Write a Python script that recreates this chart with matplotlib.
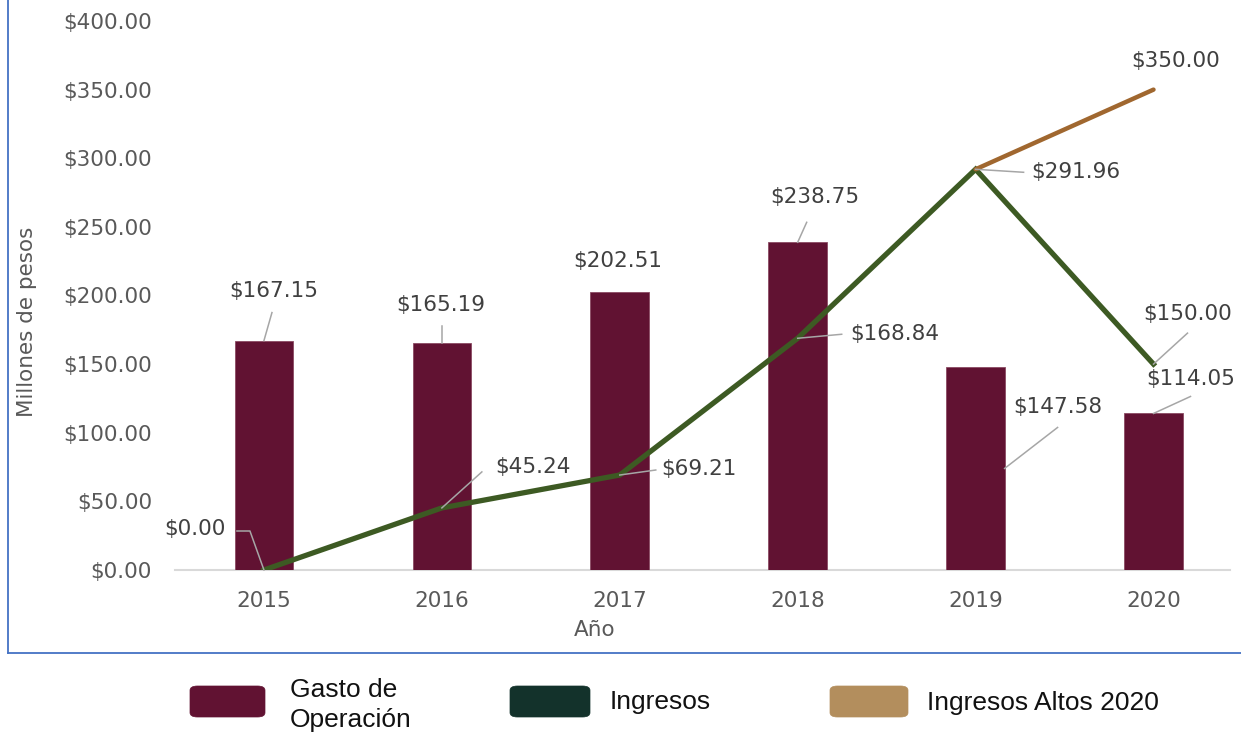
import matplotlib
matplotlib.use("Agg")
import matplotlib.pyplot as plt
from matplotlib.patches import FancyBboxPatch
from matplotlib.lines import Line2D
import matplotlib.transforms as mtransforms

# Data
years = ["2015", "2016", "2017", "2018", "2019", "2020"]
gasto = [167.15, 165.19, 202.51, 238.75, 147.58, 114.05]
ingresos = [0.00, 45.24, 69.21, 168.84, 291.96, 150.00]
altos_years = ["2019", "2020"]
altos = [291.96, 350.00]
yticks = [0, 50, 100, 150, 200, 250, 300, 350, 400]

BAR = "#611232"
GREEN = "#3d5a23"
BROWN = "#a0672f"
LEG_GREEN = "#13322b"
LEG_TAN = "#b38e5d"
TXT = "#595959"
LBL = "#404040"
LEAD = "#a6a6a6"
FS = 15.5

plt.rcParams["font.family"] = ["DejaVu Sans"]

W, H = 1241, 732
fig = plt.figure(figsize=(W / 100, H / 100), dpi=100)
ax = fig.add_axes([175 / W, (H - 570) / H, 1055 / W, 549 / H])

x = list(range(len(years)))
ax.bar(x, gasto, width=0.33, color=BAR, edgecolor="#8a4a63", linewidth=0.6, zorder=2)
ax.plot(x, ingresos, color=GREEN, lw=3.8, solid_joinstyle="miter", zorder=3)
xa = [years.index(y) for y in altos_years]
ax.plot(xa, altos, color=BROWN, lw=3.2, solid_capstyle="round", zorder=3)

ax.set_xlim(-0.5, 5.43)
ax.set_ylim(0, 400)
ax.set_yticks(yticks)
ax.set_yticklabels([f"${v:.2f}" for v in yticks])
ax.set_xticks(x)
ax.set_xticklabels(years)
ax.tick_params(axis="both", length=0, labelsize=FS, colors=TXT)
ax.tick_params(axis="y", pad=16.5)
ax.tick_params(axis="x", pad=15)
for s in ["top", "right", "left"]:
    ax.spines[s].set_visible(False)
ax.spines["bottom"].set_color("#d9d9d9")
ax.spines["bottom"].set_linewidth(1.5)
ax.spines["bottom"].set_zorder(1)

fig.text(27 / W, 1 - 322 / H, "Millones de pesos", rotation=90, ha="center",
         va="center", fontsize=FS, color=TXT)
fig.text(595 / W, 1 - 630 / H, "Año", ha="center", va="center",
         fontsize=FS, color=TXT)

fig.canvas.draw()


def label(xv, yv, text, text_off, lead=None):
    """Data label placed at a pixel offset from (xv, yv) with an optional leader."""
    px, py = ax.transData.transform((xv, yv))
    if lead:
        xs = [px + dx for dx, dy in lead]
        ys = [py + dy for dx, dy in lead]
        fig.add_artist(Line2D(xs, ys, transform=mtransforms.IdentityTransform(),
                              color=LEAD, lw=1.1, zorder=4))
    ax.annotate(text, xy=(xv, yv), xytext=text_off, textcoords="offset pixels",
                ha="center", va="center", fontsize=FS, color=LBL,
                annotation_clip=False, zorder=5)


# Bar labels
bar_text = [(10, 50), (-1, 38), (-2, 31), (17, 45), (82, -40), (37, 34)]
bar_lead = [[(0, 0), (8, 28)], [(0, 0), (0, 17)], None, [(0, 0), (9, 20)],
            [(29, -101), (82, -60)], [(0, 0), (37, 17)]]
for i, v in enumerate(gasto):
    label(i, v, f"${v:.2f}", bar_text[i], bar_lead[i])

# Line labels
line_text = [(-69, 41), (91, 41), (79, 6), (97, 4), (100, -3), (34, 50)]
line_lead = [[(0, 0), (-14, 39), (-27, 39)], [(0, 0), (40, 36)], [(0, 0), (36, 5)],
             [(0, 0), (44, 4)], [(0, 0), (48, -3)], [(0, 0), (34, 31)]]
for i, v in enumerate(ingresos):
    label(i, v, f"${v:.2f}", line_text[i], line_lead[i])

label(xa[-1], altos[-1], f"${altos[-1]:.2f}", (22, 29))

# Outer frame (left and bottom)
fig.add_artist(Line2D([8 / W, 8 / W], [1 - 653 / H, 1.0], color="#4472c4", lw=1.3))
fig.add_artist(Line2D([8 / W, 1.0], [1 - 653 / H, 1 - 653 / H], color="#4472c4", lw=1.3))

# Legend
LEG_FONT = ["Liberation Sans Narrow", "Liberation Sans", "DejaVu Sans"]
legend_items = [
    (BAR, 190, 265, "Gasto de\nOperación", 290, 705),
    (LEG_GREEN, 510, 590, "Ingresos", 610, 702),
    (LEG_TAN, 830, 908, "Ingresos Altos 2020", 927, 703),
]
for color, x0, x1, text, tx, ty in legend_items:
    box = FancyBboxPatch((x0 / W, 1 - 717 / H), (x1 - x0) / W, 31 / H,
                         boxstyle="round,pad=0,rounding_size=0.006",
                         transform=fig.transFigure, facecolor=color,
                         edgecolor=color, lw=0.5)
    fig.add_artist(box)
    fig.text(tx / W, 1 - ty / H, text, ha="left", va="center", fontsize=19,
             family=LEG_FONT, color="#111111", linespacing=1.3)

fig.savefig("out.png", dpi=100)
